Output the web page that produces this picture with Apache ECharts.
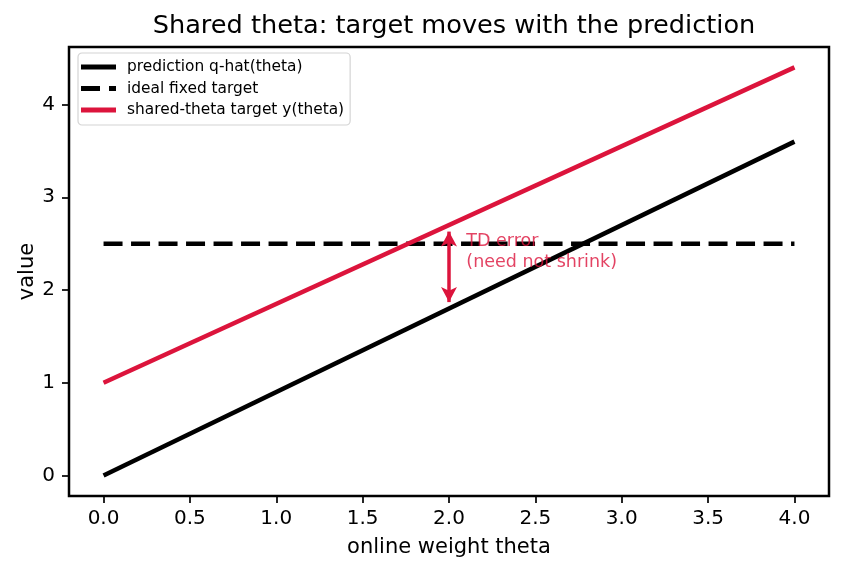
<!DOCTYPE html>
<html>
<head>
<meta charset="utf-8">
<script src="https://cdn.jsdelivr.net/npm/echarts@6/dist/echarts.min.js"></script>
<style>
html,body{margin:0;padding:0;background:#fff;}
#chart{width:842px;height:573px;}
</style>
</head>
<body>
<div id="chart"></div>
<script>
// ---- data ----
var theta = [0, 4];
var prediction = [0, 3.6];
var fixedTarget = [2.5, 2.5];
var sharedTarget = [1.0, 4.4];
var arrowX = 2.0;
var arrowFrom = 1.8;
var arrowTo = 2.7;
var noteX = 2.1;
var noteY = 2.41;
var noteText = 'TD error\n(need not shrink)';
var xTicks = [0, 0.5, 1, 1.5, 2, 2.5, 3, 3.5, 4];
var yTicks = [0, 1, 2, 3, 4];

function pairs(xs, ys) { return xs.map(function (x, i) { return [x, ys[i]]; }); }

var FONT = 'DejaVu Sans';
var crimson = '#DC143C';
var ARROW_SHRINK = 0.07;
var chart = echarts.init(document.getElementById('chart'), null, {renderer: 'canvas'});

chart.setOption({
  animation: false,
  backgroundColor: '#fff',
  title: {
    text: 'Shared theta: target moves with the prediction',
    left: 449, top: 8, textAlign: 'center',
    textStyle: {fontFamily: FONT, fontSize: 25.6, fontWeight: 'normal', color: '#000'}
  },
  grid: {left: 69, right: 13, top: 47, bottom: 77, show: true, borderColor: '#000', borderWidth: 2.5, backgroundColor: 'transparent'},
  legend: {
    left: 78, top: 53, orient: 'vertical', itemGap: 5.5, itemWidth: 35, itemHeight: 5,
    padding: [6, 6, 7, 3],
    borderColor: '#d4d4d4', borderWidth: 1.2, borderRadius: 4, backgroundColor: 'rgba(255,255,255,0.8)',
    textStyle: {fontFamily: FONT, fontSize: 15.4, lineHeight: 16, color: '#000', padding: [0, 0, 0, 6]},
    data: [
      {name: 'prediction q-hat(theta)', icon: 'path://M0,0 L35,0 L35,5 L0,5 Z'},
      {name: 'ideal fixed target', icon: 'path://M0,0 L19,0 L19,5 L0,5 Z M28,0 L35,0 L35,5 L28,5 Z'},
      {name: 'shared-theta target y(theta)', icon: 'path://M0,0 L35,0 L35,5 L0,5 Z'}
    ]
  },
  xAxis: {
    type: 'value', min: -0.2, max: 4.2,
    name: 'online weight theta', nameLocation: 'middle', nameGap: 41, nameMoveOverlap: false,
    nameTextStyle: {fontFamily: FONT, fontSize: 21, color: '#000'},
    axisLine: {show: false, onZero: false},
    axisTick: {show: true, length: 7, lineStyle: {color: '#000', width: 1.7}, customValues: xTicks},
    axisLabel: {fontFamily: FONT, fontSize: 20, color: '#000', margin: 13, customValues: xTicks,
      formatter: function (v) { return v.toFixed(1); }},
    splitLine: {show: false}
  },
  yAxis: {
    type: 'value', min: -0.22, max: 4.62,
    name: 'value', nameLocation: 'middle', nameGap: 31, nameRotate: 90, nameMoveOverlap: false,
    nameTextStyle: {fontFamily: FONT, fontSize: 21, color: '#000'},
    axisLine: {show: false, onZero: false},
    axisTick: {show: true, length: 7, lineStyle: {color: '#000', width: 1.7}, customValues: yTicks},
    axisLabel: {fontFamily: FONT, fontSize: 20, color: '#000', margin: 14, customValues: yTicks,
      formatter: function (v) { return String(Math.round(v)); }},
    splitLine: {show: false}
  },
  series: [
    {
      name: 'prediction q-hat(theta)', type: 'line', data: pairs(theta, prediction),
      showSymbol: false, symbol: 'none', color: '#000',
      lineStyle: {color: '#000', width: 4.5}, z: 3
    },
    {
      name: 'ideal fixed target', type: 'line', data: pairs(theta, fixedTarget),
      showSymbol: false, symbol: 'none', color: '#000',
      lineStyle: {color: '#000', width: 4.5, type: [19, 8.5], cap: 'butt'}, z: 3
    },
    {
      name: 'shared-theta target y(theta)', type: 'line', data: pairs(theta, sharedTarget),
      showSymbol: false, symbol: 'none', color: crimson,
      lineStyle: {color: crimson, width: 4.5}, z: 3,
      markLine: {
        silent: true, animation: false,
        symbol: ['arrow', 'arrow'], symbolSize: [12, 15],
        lineStyle: {color: crimson, width: 3.5, type: 'solid'},
        label: {show: false},
        data: [[{coord: [arrowX, arrowFrom + ARROW_SHRINK]}, {coord: [arrowX, arrowTo - ARROW_SHRINK]}]]
      }
    },
    {
      name: 'note', type: 'scatter', data: [[noteX, noteY]], symbolSize: 0.1,
      silent: true, z: 10,
      label: {
        show: true, position: 'right', distance: 0, formatter: noteText,
        fontFamily: FONT, fontSize: 17.5, color: crimson, lineHeight: 21, align: 'left'
      }
    }
  ]
});
</script>
</body>
</html>
